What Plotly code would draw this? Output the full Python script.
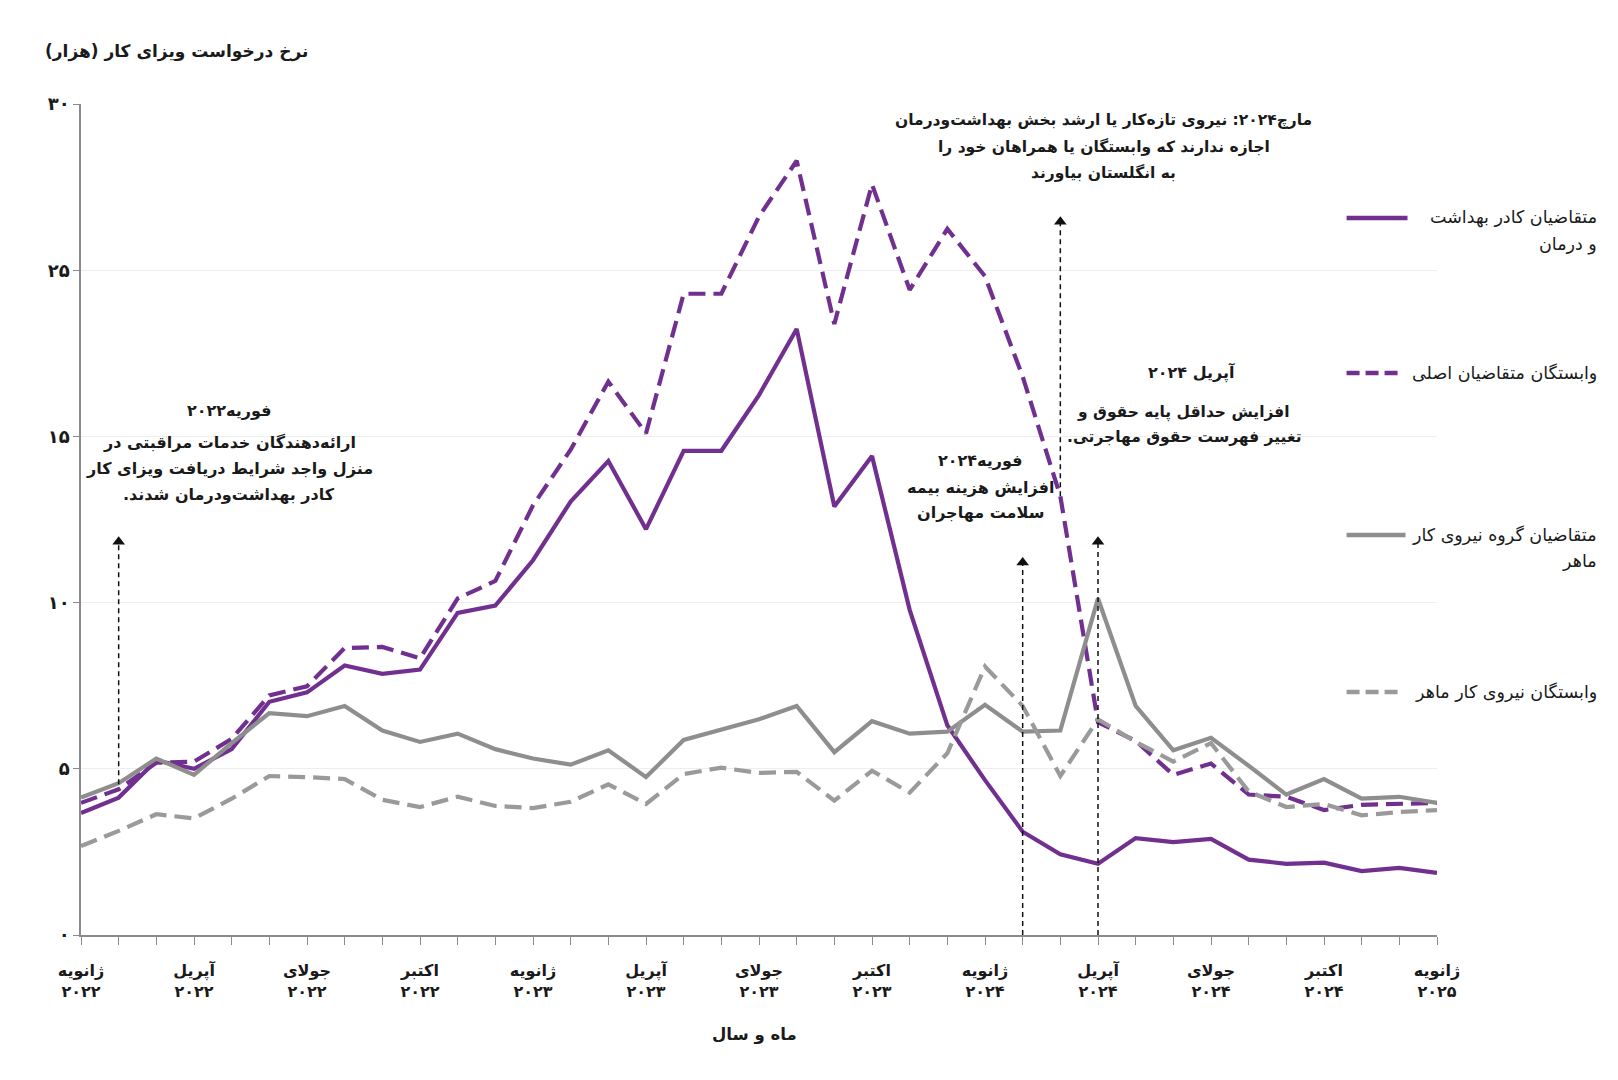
import plotly.graph_objects as go

# ---------------- data (thousands) ----------------
months = [
    "2022-01", "2022-02", "2022-03", "2022-04", "2022-05", "2022-06", "2022-07", "2022-08", "2022-09",
    "2022-10", "2022-11", "2022-12", "2023-01", "2023-02", "2023-03", "2023-04", "2023-05", "2023-06",
    "2023-07", "2023-08", "2023-09", "2023-10", "2023-11", "2023-12", "2024-01", "2024-02", "2024-03",
    "2024-04", "2024-05", "2024-06", "2024-07", "2024-08", "2024-09", "2024-10", "2024-11", "2024-12",
    "2025-01",
]
health_main = [4.40, 4.96, 6.30, 6.00, 6.71, 8.42, 8.76, 9.73, 9.43, 9.58, 11.63, 11.89, 13.53,
               15.65, 17.11, 14.65, 17.48, 17.48, 19.49, 21.88, 15.47, 17.29, 11.74, 7.57, 5.59,
               3.73, 2.91, 2.57, 3.50, 3.35, 3.47, 2.72, 2.57, 2.61, 2.31, 2.42, 2.24]
health_dep = [4.77, 5.26, 6.22, 6.26, 7.08, 8.65, 8.98, 10.36, 10.40, 9.99, 12.15, 12.78, 15.51,
              17.52, 19.98, 18.11, 23.15, 23.15, 25.94, 27.95, 22.06, 27.10, 23.29, 25.49, 23.78,
              20.16, 15.84, 7.68, 7.01, 5.78, 6.19, 5.07, 4.99, 4.51, 4.70, 4.73, 4.77]
skilled_main = [4.96, 5.48, 6.37, 5.78, 6.93, 8.01, 7.90, 8.27, 7.38, 6.97, 7.27, 6.71, 6.37,
                6.15, 6.67, 5.70, 7.04, 7.42, 7.79, 8.27, 6.60, 7.72, 7.27, 7.34, 8.31, 7.34,
                7.38, 12.15, 8.27, 6.67, 7.12, 6.11, 5.07, 5.63, 4.92, 4.99, 4.77]
skilled_dep = [3.21, 3.76, 4.36, 4.21, 4.92, 5.74, 5.70, 5.63, 4.88, 4.62, 4.99, 4.66, 4.58,
               4.81, 5.44, 4.73, 5.81, 6.04, 5.85, 5.89, 4.85, 5.93, 5.14, 6.56, 9.69, 8.27,
               5.74, 7.79, 6.97, 6.26, 6.93, 5.18, 4.62, 4.73, 4.32, 4.44, 4.51]

series_names = [
    "متقاضیان کادر بهداشت<br>و درمان",
    "وابستگان متقاضیان اصلی",
    "متقاضیان گروه نیروی کار<br>ماهر",
    "وابستگان نیروی کار ماهر",
]

x_tick_text = [
    "ژانویه<br>۲۰۲۲", "آپریل<br>۲۰۲۲", "جولای<br>۲۰۲۲", "اکتبر<br>۲۰۲۲",
    "ژانویه<br>۲۰۲۳", "آپریل<br>۲۰۲۳", "جولای<br>۲۰۲۳", "اکتبر<br>۲۰۲۳",
    "ژانویه<br>۲۰۲۴", "آپریل<br>۲۰۲۴", "جولای<br>۲۰۲۴", "اکتبر<br>۲۰۲۴",
    "ژانویه<br>۲۰۲۵",
]
y_tick_vals = [0, 6, 12, 18, 24, 30]
y_tick_text = ["۰", "۵", "۱۰", "۱۵", "۲۵", "۳۰"]

# events: (month label, arrow bottom value, arrow tip value)
events = [
    ("2022-02", 5.44, 14.45),
    ("2024-02", 0.0, 13.7),
    ("2024-03", 15.84, 26.0),
    ("2024-04", 0.0, 14.45),
]

# ---------------- styling ----------------
FONT = "DejaVu Sans"
PURPLE = "#71308f"
GREY = "#8e8e8e"
GREY_D = "#9a9a9a"
RLM = "\u200f"
W, H = 1618, 1080
OFF = 8  # page body margin
L, T = 80.5 - OFF, 104 - OFF
PW, PH = 1357, 831
R, B = W - L - PW, H - T - PH


def px(xs):
    """screen x -> paper x"""
    return (xs - OFF - L) / PW


def py(ys):
    """screen y -> paper y"""
    return (H - B - (ys - OFF)) / PH


xi = list(range(len(months)))
idx = {m: i for i, m in enumerate(months)}

fig = go.Figure()

styles = [
    (health_main, PURPLE, "solid"),
    (health_dep, PURPLE, "17px,8px"),
    (skilled_main, GREY, "solid"),
    (skilled_dep, GREY_D, "17px,8px"),
]
for (vals, col, dash), name in zip(styles, series_names):
    fig.add_trace(go.Scatter(x=xi, y=vals, mode="lines", name=name.replace("<br>", " "),
                             line=dict(color=col, width=4.2, dash=dash), showlegend=False,
                             hoverinfo="skip"))

# event arrows (dashed lines + triangle heads)
for m, y0, y1 in events:
    fig.add_shape(type="line", xref="x", yref="y", x0=idx[m], x1=idx[m], y0=y0, y1=y1 - 0.3,
                  line=dict(color="#111111", width=1.5, dash="5px,4px"))
fig.add_trace(go.Scatter(x=[idx[m] for m, _, _ in events], y=[t - 0.25 for _, _, t in events],
                         mode="markers", marker=dict(symbol="triangle-up", size=11, color="#111111"),
                         showlegend=False, hoverinfo="skip"))

ann = []


def text(x, y, s, size=16, bold=True, xanchor="center", color="#1a1a1a"):
    s = RLM + s + RLM
    ann.append(dict(x=x, y=y, xref="paper", yref="paper", text=(f"<b>{s}</b>" if bold else s),
                    showarrow=False, xanchor=xanchor, yanchor="middle",
                    font=dict(family=FONT, size=size, color=color)))


# title and x-axis title
text(px(310), py(52), "نرخ درخواست ویزای کار (هزار)", size=17, xanchor="right")
text(px(754), py(1035), "ماه و سال", size=16.5)

# Feb 2022 note
text(px(229), py(410), "فوریه۲۰۲۲", size=16)
text(px(229), py(442), "ارائه‌دهندگان خدمات مراقبتی در", size=16)
text(px(229), py(468), "منزل واجد شرایط دریافت ویزای کار", size=16)
text(px(229), py(494), "کادر بهداشت‌ودرمان شدند.", size=16)

# Feb 2024 note
text(px(981), py(460), "فوریه۲۰۲۴", size=16)
text(px(981), py(487), "افزایش هزینه بیمه", size=16)
text(px(981), py(513), "سلامت مهاجران", size=16)

# Mar 2024 note
text(px(1104), py(120), "مارچ۲۰۲۴: نیروی تازه‌کار یا ارشد بخش بهداشت‌ودرمان", size=15.5)
text(px(1104), py(146), "اجازه ندارند که وابستگان یا همراهان خود را", size=15.5)
text(px(1104), py(172), "به انگلستان بیاورند", size=15.5)

# Apr 2024 note
text(px(1192), py(372), "آپریل ۲۰۲۴", size=16)
text(px(1184), py(412), "افزایش حداقل پایه حقوق و", size=15.5)
text(px(1184), py(437), "تغییر فهرست حقوق مهاجرتی.", size=15.5)

# manual legend
legend_items = [
    (218, [218, 245], PURPLE, "solid", 1408),
    (373, [373], PURPLE, "13px,6px", 1401),
    (535, [535, 561], GREY, "solid", 1406),
    (692, [692], GREY_D, "13px,6px", 1401),
]
for (ly, tys, col, dash, x1), name in zip(legend_items, series_names):
    fig.add_shape(type="line", xref="paper", yref="paper", x0=px(1347), x1=px(x1), y0=py(ly), y1=py(ly),
                  line=dict(color=col, width=4.5, dash=dash))
    for line_txt, ty in zip(name.split("<br>"), tys):
        text(px(1600), py(ty), line_txt, size=17.5, bold=False, xanchor="right")

fig.update_layout(
    width=W, height=H,
    margin=dict(l=L, r=R, t=T, b=B),
    paper_bgcolor="white", plot_bgcolor="white",
    font=dict(family=FONT, size=15, color="#1a1a1a"),
    annotations=ann,
    showlegend=False,
)
fig.update_xaxes(
    range=[0, 36], tickmode="array", tickvals=list(range(0, 37, 3)), ticktext=x_tick_text,
    showline=True, linecolor="#8a8a8a", linewidth=1.5, ticks="outside", ticklen=8,
    tickcolor="#8a8a8a", showgrid=False, zeroline=False, ticklabelstandoff=12,
    tickfont=dict(family=FONT, size=16, color="#1a1a1a", weight="bold"),
    minor=dict(tickmode="linear", tick0=0, dtick=1, ticks="outside", ticklen=8, tickcolor="#8a8a8a",
               showgrid=False),
)
fig.update_yaxes(
    range=[0, 30], tickmode="array", tickvals=y_tick_vals, ticktext=y_tick_text,
    showline=True, linecolor="#8a8a8a", linewidth=1.5, ticks="outside", ticklen=6,
    tickcolor="#8a8a8a", showgrid=True, gridcolor="#eeeeee", gridwidth=1, zeroline=False,
    tickfont=dict(family=FONT, size=18, color="#1a1a1a", weight="bold"),
)

fig.write_html("out.html")
